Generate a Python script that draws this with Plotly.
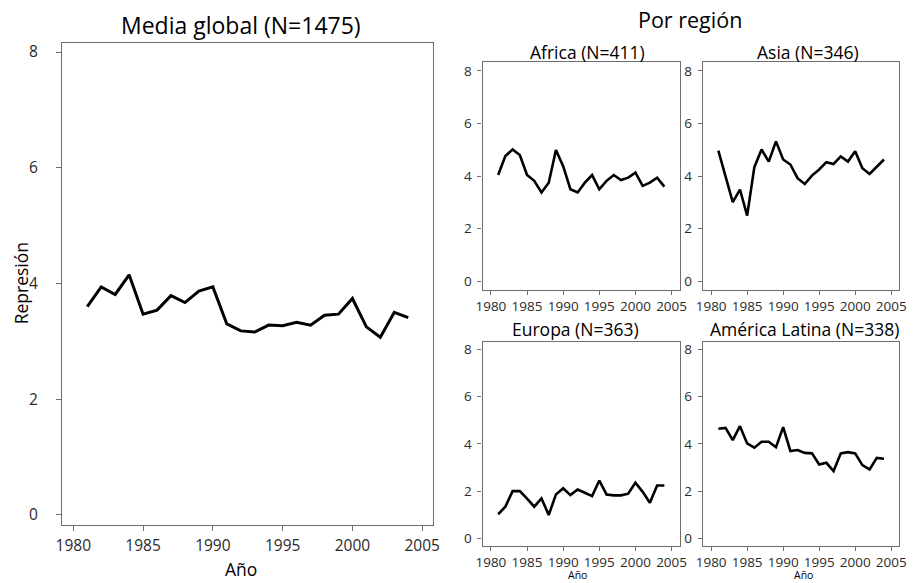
import plotly.graph_objects as go

years = list(range(1981, 2005))
global_mean = [3.60, 3.94, 3.81, 4.15, 3.47, 3.54, 3.79, 3.67, 3.87, 3.94, 3.30, 3.18,
               3.16, 3.28, 3.27, 3.33, 3.28, 3.45, 3.47, 3.74, 3.25, 3.07, 3.50, 3.41]
africa = [4.04, 4.76, 5.01, 4.80, 4.04, 3.82, 3.38, 3.75, 4.99, 4.38, 3.50, 3.38,
          3.75, 4.04, 3.50, 3.82, 4.04, 3.85, 3.94, 4.13, 3.63, 3.75, 3.94, 3.60]
asia = [4.97, 4.02, 3.01, 3.49, 2.50, 4.34, 5.01, 4.55, 5.32, 4.63, 4.44, 3.92,
        3.70, 4.02, 4.25, 4.53, 4.46, 4.75, 4.55, 4.94, 4.30, 4.08, 4.34, 4.63]
europa = [1.02, 1.34, 2.00, 2.00, 1.68, 1.34, 1.69, 0.99, 1.86, 2.12, 1.83, 2.07,
          1.93, 1.79, 2.45, 1.86, 1.82, 1.82, 1.89, 2.36, 1.97, 1.51, 2.24, 2.24]
america_latina = [4.64, 4.68, 4.16, 4.75, 4.02, 3.84, 4.09, 4.09, 3.86, 4.71, 3.70, 3.74,
                  3.62, 3.60, 3.13, 3.20, 2.85, 3.60, 3.65, 3.60, 3.10, 2.92, 3.41, 3.37]

main_title = "Media global (N=1475)"
right_title = "Por región"
panel_titles = ["Africa (N=411)", "Asia (N=346)", "Europa (N=363)", "América Latina (N=338)"]
x_ticks = [1980, 1985, 1990, 1995, 2000, 2005]
y_ticks = [0, 2, 4, 6, 8]
x_label = "Año"
y_label = "Represión"

W, H = 913, 583
FONT = "Open Sans"
FRAME = "#6e6e6e"
TXT = "#2b2b2b"

def px(x):
    return x / W

def py(y):
    return 1 - y / H

fig = go.Figure()

# panels: (data, axis suffix, pixel box [left, right, top, bottom])
panels = [
    (global_mean, "", (56, 433, 41, 526)),
    (africa, "2", (483, 683, 60.7, 289.3)),
    (asia, "3", (706.7, 906, 60.7, 289.3)),
    (europa, "4", (483, 683, 341.7, 546.7)),
    (america_latina, "5", (706.7, 906, 341.7, 546.7)),
]

for i, (vals, ax, box) in enumerate(panels):
    main = (i == 0)
    fig.add_trace(go.Scatter(
        x=years, y=vals, mode="lines",
        line=dict(color="black", width=3 if main else 2.6),
        xaxis="x" + ax, yaxis="y" + ax, showlegend=False, hoverinfo="skip"))
    l, r, t, b = box
    common = dict(showline=True, mirror=True, linecolor=FRAME, linewidth=1.4,
                  ticks="outside", ticklen=5 if main else 4, tickcolor=FRAME, tickwidth=1,
                  showgrid=False, zeroline=False,
                  tickfont=dict(family=FONT, size=15.5 if main else 13.5, color=TXT))
    fig.layout["xaxis" + ax] = dict(
        domain=[px(l), px(r)], anchor="y" + ax,
        range=[1979.2, 2005.8] if main else [1978.85, 2006.1],
        tickvals=x_ticks, ticklabelstandoff=1 if main else 0, **common)
    fig.layout["yaxis" + ax] = dict(
        domain=[py(b), py(t)], anchor="x" + ax,
        range=[-0.18, 8.16] if main else [-0.32, 8.32],
        tickvals=y_ticks, ticklabelstandoff=15 if main else 3, **common)

ann = []
def add_text(text, x, y, size, angle=0):
    ann.append(dict(text=text, x=px(x), y=py(y), xref="paper", yref="paper",
                    xanchor="center", yanchor="middle", showarrow=False,
                    textangle=angle, font=dict(family=FONT, size=size, color="black")))

add_text(main_title, 238, 23, 23)
add_text(right_title, 694, 18, 21.5)
add_text(panel_titles[0], 590, 50, 17.5)
add_text(panel_titles[1], 813, 50, 17.5)
add_text(panel_titles[2], 577, 329, 17.5)
add_text(panel_titles[3], 810, 329, 17.5)
add_text(x_label, 238, 570, 17.5)
add_text(x_label, 579, 576, 10.5)
add_text(x_label, 809, 576, 10.5)
add_text(y_label, 14, 283, 17.5, -90)

fig.update_layout(
    width=W, height=H, margin=dict(l=0, r=0, t=0, b=0),
    paper_bgcolor="white", plot_bgcolor="white",
    annotations=ann, showlegend=False,
)

fig.write_html("out.html", config={"displayModeBar": False},
               post_script="document.body.style.margin='0px';document.body.style.overflow='hidden';")
